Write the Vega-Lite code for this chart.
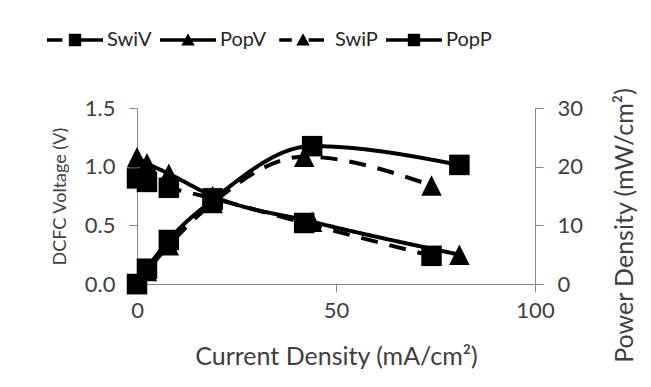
{
  "$schema": "https://vega.github.io/schema/vega-lite/v6.json",
  "width": 398,
  "height": 176,
  "autosize": {"type": "none"},
  "padding": {"left": 137, "top": 108, "right": 116, "bottom": 103},
  "background": "white",
  "config": {
    "view": {"stroke": null},
    "font": "Lato",
    "axis": {
      "grid": false,
      "domainColor": "#868686",
      "domainWidth": 1,
      "tickColor": "#868686",
      "tickWidth": 1,
      "tickSize": 8,
      "labelFont": "Lato",
      "labelFontSize": 22,
      "labelColor": "#404040",
      "labelFlush": false,
      "titleFont": "Lato",
      "titleFontWeight": "normal",
      "titleColor": "#404040",
      "titleFontSize": 25
    }
  },
  "data": {
    "values": [
      {"s": "SwiV", "kind": "V", "x": 0, "y": 0.90},
      {"s": "SwiV", "kind": "V", "x": 2.5, "y": 0.87},
      {"s": "SwiV", "kind": "V", "x": 8, "y": 0.82},
      {"s": "SwiV", "kind": "V", "x": 19, "y": 0.73},
      {"s": "SwiV", "kind": "V", "x": 42, "y": 0.52},
      {"s": "SwiV", "kind": "V", "x": 74, "y": 0.24},
      {"s": "PopV", "kind": "V", "x": 0, "y": 1.08},
      {"s": "PopV", "kind": "V", "x": 2.5, "y": 1.03},
      {"s": "PopV", "kind": "V", "x": 8, "y": 0.94},
      {"s": "PopV", "kind": "V", "x": 19, "y": 0.75},
      {"s": "PopV", "kind": "V", "x": 44, "y": 0.53},
      {"s": "PopV", "kind": "V", "x": 81, "y": 0.25},
      {"s": "SwiP", "kind": "P", "x": 0, "y": 0},
      {"s": "SwiP", "kind": "P", "x": 2.5, "y": 2.2},
      {"s": "SwiP", "kind": "P", "x": 8, "y": 6.6},
      {"s": "SwiP", "kind": "P", "x": 19, "y": 13.8},
      {"s": "SwiP", "kind": "P", "x": 42, "y": 21.7},
      {"s": "SwiP", "kind": "P", "x": 74, "y": 16.8},
      {"s": "PopP", "kind": "P", "x": 0, "y": 0},
      {"s": "PopP", "kind": "P", "x": 2.5, "y": 2.6},
      {"s": "PopP", "kind": "P", "x": 8, "y": 7.5},
      {"s": "PopP", "kind": "P", "x": 19, "y": 14.3},
      {"s": "PopP", "kind": "P", "x": 44, "y": 23.5},
      {"s": "PopP", "kind": "P", "x": 81, "y": 20.3}
    ]
  },
  "encoding": {
    "x": {
      "field": "x",
      "type": "quantitative",
      "scale": {"domain": [0, 100]},
      "axis": {
        "title": "Current Density (mA/cm²)",
        "values": [0, 50, 100],
        "labelPadding": 8,
        "titlePadding": 23
      }
    }
  },
  "layer": [
    {
      "transform": [{"filter": "datum.kind === 'V'"}],
      "mark": {"type": "line", "interpolate": "monotone", "color": "black", "strokeWidth": 4},
      "encoding": {
        "y": {
          "field": "y",
          "type": "quantitative",
          "scale": {"domain": [0, 1.5]},
          "axis": {
            "orient": "left",
            "title": "DCFC Voltage (V)",
            "titleFontSize": 18,
            "values": [0, 0.5, 1, 1.5],
            "format": ".1f",
            "labelPadding": 14,
            "titlePadding": 15
          }
        },
        "strokeDash": {
          "field": "s",
          "type": "nominal",
          "scale": {"domain": ["PopV", "PopP", "SwiV", "SwiP"], "range": [[1, 0], [1, 0], [17, 12], [17, 12]]},
          "legend": null
        }
      }
    },
    {
      "transform": [{"filter": "datum.kind === 'P'"}],
      "mark": {"type": "line", "interpolate": "monotone", "color": "black", "strokeWidth": 4},
      "encoding": {
        "y": {
          "field": "y",
          "type": "quantitative",
          "scale": {"domain": [0, 30]},
          "axis": {
            "orient": "right",
            "title": "Power Density (mW/cm²)",
            "titleAngle": 270,
            "titleY": 117,
            "values": [0, 10, 20, 30],
            "labelPadding": 14,
            "titlePadding": 55
          }
        },
        "strokeDash": {
          "field": "s",
          "type": "nominal",
          "scale": {"domain": ["PopV", "PopP", "SwiV", "SwiP"], "range": [[1, 0], [1, 0], [17, 12], [17, 12]]},
          "legend": null
        }
      }
    },
    {
      "transform": [{"filter": "datum.kind === 'V'"}],
      "mark": {"type": "point", "filled": true, "color": "black", "opacity": 1, "size": 420},
      "encoding": {
        "y": {"field": "y", "type": "quantitative", "scale": {"domain": [0, 1.5]}, "axis": null},
        "shape": {
          "field": "s",
          "type": "nominal",
          "scale": {"domain": ["SwiV", "PopV", "SwiP", "PopP"], "range": ["M-1,-1H1V1H-1Z", "M0,-1L1,1H-1Z", "M0,-1L1,1H-1Z", "M-1,-1H1V1H-1Z"]},
          "legend": null
        }
      }
    },
    {
      "transform": [{"filter": "datum.kind === 'P'"}],
      "mark": {"type": "point", "filled": true, "color": "black", "opacity": 1, "size": 420},
      "encoding": {
        "y": {"field": "y", "type": "quantitative", "scale": {"domain": [0, 30]}, "axis": null},
        "shape": {
          "field": "s",
          "type": "nominal",
          "scale": {"domain": ["SwiV", "PopV", "SwiP", "PopP"], "range": ["M-1,-1H1V1H-1Z", "M0,-1L1,1H-1Z", "M0,-1L1,1H-1Z", "M-1,-1H1V1H-1Z"]},
          "legend": null
        }
      }
    },
    {
      "transform": [{"filter": "datum.kind === 'none'"}],
      "mark": {"type": "point", "filled": true, "color": "black", "opacity": 1},
      "encoding": {
        "y": {"field": "y", "type": "quantitative", "scale": {"domain": [0, 1.5]}, "axis": null},
        "shape": {
          "field": "s",
          "type": "nominal",
          "scale": {
            "domain": ["SwiV", "PopV", "SwiP", "PopP"],
            "range": [
              "M-1,-0.065H-0.45V0.065H-1ZM-0.22,-0.22H0.22V0.22H-0.22ZM0.22,-0.065H1V0.065H0.22Z",
              "M-1,-0.065H1V0.065H-1ZM0,-0.24L0.24,0.2H-0.24Z",
              "M-0.85,-0.065H-0.4V0.065H-0.85ZM0,-0.24L0.24,0.2H-0.24ZM0.2,-0.065H0.75V0.065H0.2Z",
              "M-1,-0.065H1V0.065H-1ZM-0.22,-0.22H0.22V0.22H-0.22Z"
            ]
          },
          "legend": {
            "orient": "none",
            "legendX": -90,
            "legendY": -96,
            "direction": "horizontal",
            "title": null,
            "symbolSize": 3136,
            "symbolStrokeWidth": 0,
            "symbolFillColor": "black",
            "symbolOpacity": 1,
            "labelFont": "Lato",
            "labelFontSize": 20,
            "labelColor": "#262626",
            "labelOffset": 4,
            "columnPadding": 8
          }
        }
      }
    }
  ],
  "resolve": {"scale": {"y": "independent", "shape": "independent"}}
}
